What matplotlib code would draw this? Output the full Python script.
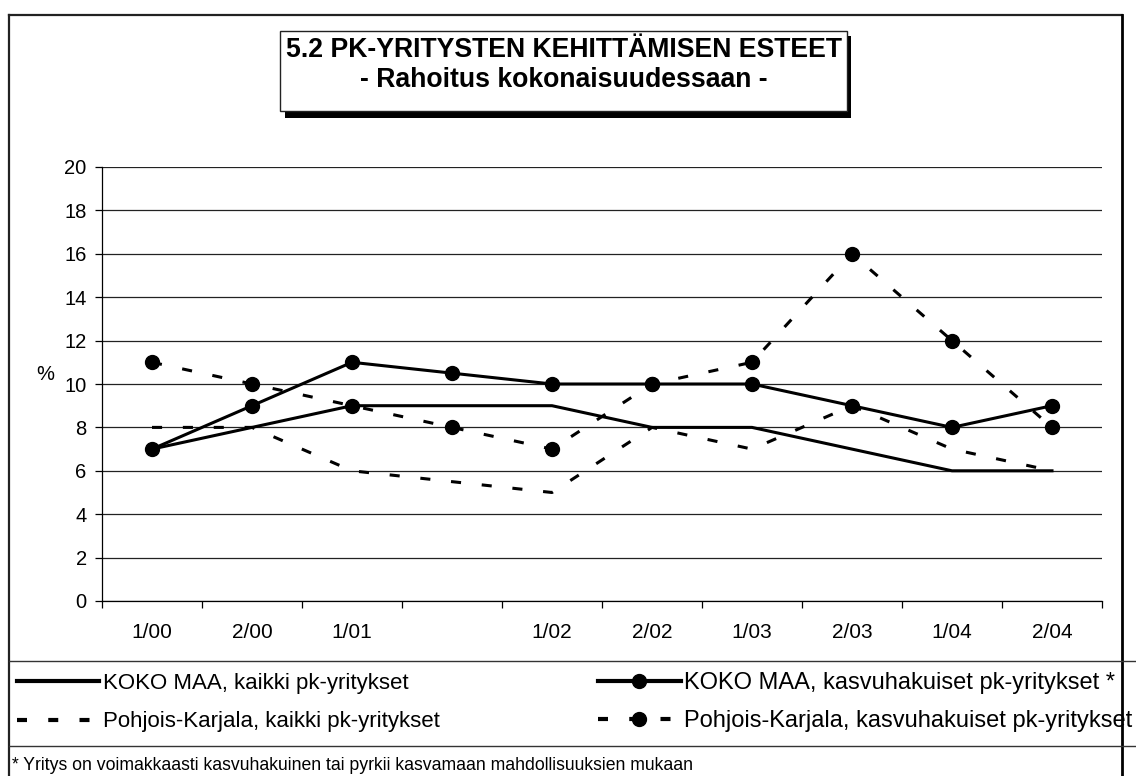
import numpy as np
import matplotlib.pyplot as plt
from matplotlib.lines import Line2D
from matplotlib.patches import Rectangle

plt.rcParams['font.family'] = ['Liberation Sans', 'DejaVu Sans']

# Data
periods = ['1/00', '2/00', '1/01', '', '1/02', '2/02', '1/03', '2/03', '1/04', '2/04']
koko_kaikki = [7, 8, 9, 9, 9, 8, 8, 7, 6, 6]
koko_kasvu = [7, 9, 11, 10.5, 10, 10, 10, 9, 8, 9]
pk_kaikki = [8, 8, 6, 5.5, 5, 8, 7, 9, 7, 6]
pk_kasvu = [11, 10, 9, 8, 7, 10, 11, 16, 12, 8]

series_labels = ['KOKO MAA, kaikki pk-yritykset',
                 'KOKO MAA, kasvuhakuiset pk-yritykset *',
                 'Pohjois-Karjala, kaikki pk-yritykset',
                 'Pohjois-Karjala, kasvuhakuiset pk-yritykset']

title1 = '5.2 PK-YRITYSTEN KEHITTÄMISEN ESTEET'
title2 = '- Rahoitus kokonaisuudessaan -'
footnote = '* Yritys on voimakkaasti kasvuhakuinen tai pyrkii kasvamaan mahdollisuuksien mukaan'

W, H = 1136, 776
fig = plt.figure(figsize=(W / 100, H / 100), dpi=100)


def fx(px):
    return px / W


def fy(py):
    return 1 - py / H


ax = fig.add_axes([fx(102), fy(601), fx(1102) - fx(102), fy(167) - fy(601)])

x = np.arange(len(periods))
lw = 2.2
dash = (0, (3.3, 6.8))
ax.plot(x, koko_kaikki, color='black', lw=lw, zorder=3)
ax.plot(x, koko_kasvu, color='black', lw=lw, marker='o', ms=10, zorder=4)
ax.plot(x, pk_kaikki, color='black', lw=lw, linestyle=dash, zorder=3)
ax.plot(x, pk_kasvu, color='black', lw=lw, linestyle=dash, marker='o', ms=10, zorder=4)

ax.set_xlim(-0.5, len(periods) - 0.5)
ax.set_ylim(0, 20)
ax.set_yticks(range(0, 21, 2))
ax.yaxis.grid(True, color='#222222', lw=0.9)
ax.set_axisbelow(True)

# category boundaries as ticks, labels centred between them
ax.set_xticks(np.arange(-0.5, len(periods), 1.0))
ax.set_xticklabels([])
ax.set_xticks(x, minor=True)
ax.set_xticklabels(periods, minor=True)
ax.tick_params(axis='x', which='major', length=5, direction='out', width=0.9)
ax.tick_params(axis='x', which='minor', length=0, pad=16, labelsize=15)
ax.tick_params(axis='y', length=5, width=0.9, pad=6, labelsize=14.5)

for s in ['top', 'right']:
    ax.spines[s].set_visible(False)
for s in ['left', 'bottom']:
    ax.spines[s].set_linewidth(0.9)

ax.set_ylabel('%', rotation=0, fontsize=14.5, labelpad=2)
ax.yaxis.set_label_coords(-0.057, 0.5)

# Outer frame and legend separators
frame_kw = dict(transform=fig.transFigure, color='#222222', lw=1.6)
fig.add_artist(Line2D([fx(9), fx(1122)], [fy(15), fy(15)], **frame_kw))
fig.add_artist(Line2D([fx(9), fx(9)], [fy(15), 0], **frame_kw))
fig.add_artist(Line2D([fx(1122), fx(1122)], [fy(15), 0], color='black', lw=2,
                      transform=fig.transFigure))
fig.add_artist(Line2D([fx(9), 1], [fy(661), fy(661)], transform=fig.transFigure,
                      color='#333333', lw=1))
fig.add_artist(Line2D([fx(9), 1], [fy(746), fy(746)], transform=fig.transFigure,
                      color='#333333', lw=1))

# Title box with shadow
fig.add_artist(Rectangle((fx(285), fy(118)), fx(851) - fx(285), fy(36) - fy(118),
                         transform=fig.transFigure, facecolor='black', edgecolor='none'))
fig.add_artist(Rectangle((fx(280), fy(111)), fx(847) - fx(280), fy(31) - fy(111),
                         transform=fig.transFigure, facecolor='white', edgecolor='#222222',
                         lw=1))
fig.text(fx(563.5), fy(50), title1, ha='center', va='center', fontsize=19.2, fontweight='bold')
fig.text(fx(563.5), fy(80), title2, ha='center', va='center', fontsize=19.2, fontweight='bold')

# Legend, two columns
leg_dash = (0, (2.4, 5.1))
h_solid = Line2D([], [], color='black', lw=3)
h_solid_m = Line2D([], [], color='black', lw=3, marker='o', ms=10)
h_dash = Line2D([], [], color='black', lw=3, linestyle=leg_dash)
h_dash_m = Line2D([], [], color='black', lw=3, linestyle=leg_dash, marker='o', ms=10)

leg_kw = dict(loc='upper left', frameon=False, handletextpad=0.15,
              borderpad=0, borderaxespad=0, numpoints=1)
fig.legend([h_solid, h_dash], [series_labels[0], series_labels[2]],
           bbox_to_anchor=(fx(17), fy(673)), fontsize=16, handlelength=3.7,
           labelspacing=0.78, **leg_kw)
fig.legend([h_solid_m, h_dash_m], [series_labels[1], series_labels[3]],
           bbox_to_anchor=(fx(598), fy(672)), fontsize=17, handlelength=3.5,
           labelspacing=0.68, **leg_kw)

fig.text(fx(12), fy(774), footnote, ha='left', va='bottom', fontsize=12.7)

fig.savefig('out.png', dpi=100)
